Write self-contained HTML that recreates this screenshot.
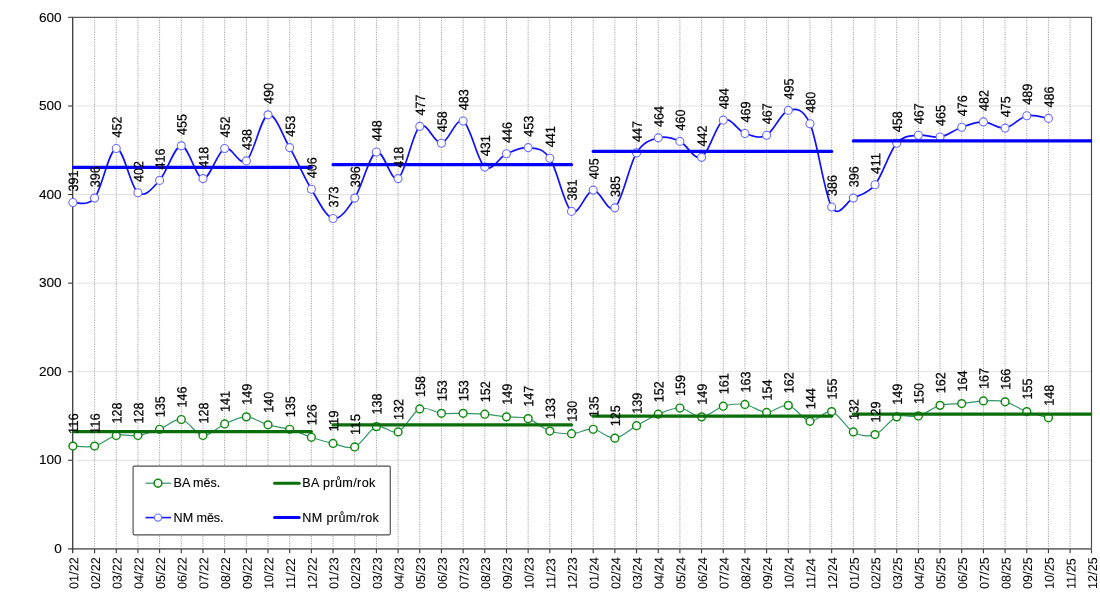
<!DOCTYPE html>
<html lang="cs"><head><meta charset="utf-8"><title>BA / NM</title>
<style>html,body{margin:0;padding:0;background:#fff}svg{display:block}text{font-family:"Liberation Sans",Arial,sans-serif;fill:#000;stroke:#000;stroke-width:.12px}.dl text{stroke-width:.22px}.xl text{stroke-width:.05px}.ax{font-size:13.6px}.xl{font-size:12.7px}.dl{font-size:13.5px}.lg{font-size:12.6px}</style></head><body>
<svg width="1100" height="600" viewBox="0 0 1100 600">
<defs><clipPath id="plot"><rect x="72.2" y="17" width="1019.9" height="532"/></clipPath></defs>
<rect width="1100" height="600" fill="#fff"/>
<g stroke="#e2e2e2" stroke-width="1">
<line x1="75.3" y1="460.27" x2="1091.8" y2="460.27"/>
<line x1="75.3" y1="371.7" x2="1091.8" y2="371.7"/>
<line x1="75.3" y1="283.12" x2="1091.8" y2="283.12"/>
<line x1="75.3" y1="194.55" x2="1091.8" y2="194.55"/>
<line x1="75.3" y1="105.98" x2="1091.8" y2="105.98"/>
</g>
<g stroke="#a4a4a4" stroke-width="1" stroke-dasharray="1.2 1.2">
<line x1="94.58" y1="17.4" x2="94.58" y2="548.85"/>
<line x1="116.26" y1="17.4" x2="116.26" y2="548.85"/>
<line x1="137.94" y1="17.4" x2="137.94" y2="548.85"/>
<line x1="159.61" y1="17.4" x2="159.61" y2="548.85"/>
<line x1="181.29" y1="17.4" x2="181.29" y2="548.85"/>
<line x1="202.97" y1="17.4" x2="202.97" y2="548.85"/>
<line x1="224.65" y1="17.4" x2="224.65" y2="548.85"/>
<line x1="246.33" y1="17.4" x2="246.33" y2="548.85"/>
<line x1="268.01" y1="17.4" x2="268.01" y2="548.85"/>
<line x1="289.69" y1="17.4" x2="289.69" y2="548.85"/>
<line x1="311.37" y1="17.4" x2="311.37" y2="548.85"/>
<line x1="333.04" y1="17.4" x2="333.04" y2="548.85"/>
<line x1="354.72" y1="17.4" x2="354.72" y2="548.85"/>
<line x1="376.4" y1="17.4" x2="376.4" y2="548.85"/>
<line x1="398.08" y1="17.4" x2="398.08" y2="548.85"/>
<line x1="419.76" y1="17.4" x2="419.76" y2="548.85"/>
<line x1="441.44" y1="17.4" x2="441.44" y2="548.85"/>
<line x1="463.12" y1="17.4" x2="463.12" y2="548.85"/>
<line x1="484.8" y1="17.4" x2="484.8" y2="548.85"/>
<line x1="506.47" y1="17.4" x2="506.47" y2="548.85"/>
<line x1="528.15" y1="17.4" x2="528.15" y2="548.85"/>
<line x1="549.83" y1="17.4" x2="549.83" y2="548.85"/>
<line x1="571.51" y1="17.4" x2="571.51" y2="548.85"/>
<line x1="593.19" y1="17.4" x2="593.19" y2="548.85"/>
<line x1="614.87" y1="17.4" x2="614.87" y2="548.85"/>
<line x1="636.55" y1="17.4" x2="636.55" y2="548.85"/>
<line x1="658.23" y1="17.4" x2="658.23" y2="548.85"/>
<line x1="679.9" y1="17.4" x2="679.9" y2="548.85"/>
<line x1="701.58" y1="17.4" x2="701.58" y2="548.85"/>
<line x1="723.26" y1="17.4" x2="723.26" y2="548.85"/>
<line x1="744.94" y1="17.4" x2="744.94" y2="548.85"/>
<line x1="766.62" y1="17.4" x2="766.62" y2="548.85"/>
<line x1="788.3" y1="17.4" x2="788.3" y2="548.85"/>
<line x1="809.98" y1="17.4" x2="809.98" y2="548.85"/>
<line x1="831.66" y1="17.4" x2="831.66" y2="548.85"/>
<line x1="853.33" y1="17.4" x2="853.33" y2="548.85"/>
<line x1="875.01" y1="17.4" x2="875.01" y2="548.85"/>
<line x1="896.69" y1="17.4" x2="896.69" y2="548.85"/>
<line x1="918.37" y1="17.4" x2="918.37" y2="548.85"/>
<line x1="940.05" y1="17.4" x2="940.05" y2="548.85"/>
<line x1="961.73" y1="17.4" x2="961.73" y2="548.85"/>
<line x1="983.41" y1="17.4" x2="983.41" y2="548.85"/>
<line x1="1005.09" y1="17.4" x2="1005.09" y2="548.85"/>
<line x1="1026.76" y1="17.4" x2="1026.76" y2="548.85"/>
<line x1="1048.44" y1="17.4" x2="1048.44" y2="548.85"/>
<line x1="1070.12" y1="17.4" x2="1070.12" y2="548.85"/>
</g>
<g fill="none">
<path d="M68.1 17.35H1092.1" stroke="#5c5c5c" stroke-width="1.25"/>
<path d="M1091.5 17.35V553.3" stroke="#484848" stroke-width="1.15"/>
<path d="M68.1 548.9H1091.5" stroke="#727272" stroke-width="1.6"/>
<path d="M72.7 17.35V553.3" stroke="#3a3a3a" stroke-width="1.3"/>
</g>
<g stroke="#3a3a3a" stroke-width="1.1" fill="none">
<line x1="68.1" y1="460.27" x2="72.7" y2="460.27"/>
<line x1="68.1" y1="371.7" x2="72.7" y2="371.7"/>
<line x1="68.1" y1="283.12" x2="72.7" y2="283.12"/>
<line x1="68.1" y1="194.55" x2="72.7" y2="194.55"/>
<line x1="68.1" y1="105.98" x2="72.7" y2="105.98"/>
<line x1="94.58" y1="548.9" x2="94.58" y2="553.3"/>
<line x1="116.26" y1="548.9" x2="116.26" y2="553.3"/>
<line x1="137.94" y1="548.9" x2="137.94" y2="553.3"/>
<line x1="159.61" y1="548.9" x2="159.61" y2="553.3"/>
<line x1="181.29" y1="548.9" x2="181.29" y2="553.3"/>
<line x1="202.97" y1="548.9" x2="202.97" y2="553.3"/>
<line x1="224.65" y1="548.9" x2="224.65" y2="553.3"/>
<line x1="246.33" y1="548.9" x2="246.33" y2="553.3"/>
<line x1="268.01" y1="548.9" x2="268.01" y2="553.3"/>
<line x1="289.69" y1="548.9" x2="289.69" y2="553.3"/>
<line x1="311.37" y1="548.9" x2="311.37" y2="553.3"/>
<line x1="333.04" y1="548.9" x2="333.04" y2="553.3"/>
<line x1="354.72" y1="548.9" x2="354.72" y2="553.3"/>
<line x1="376.4" y1="548.9" x2="376.4" y2="553.3"/>
<line x1="398.08" y1="548.9" x2="398.08" y2="553.3"/>
<line x1="419.76" y1="548.9" x2="419.76" y2="553.3"/>
<line x1="441.44" y1="548.9" x2="441.44" y2="553.3"/>
<line x1="463.12" y1="548.9" x2="463.12" y2="553.3"/>
<line x1="484.8" y1="548.9" x2="484.8" y2="553.3"/>
<line x1="506.47" y1="548.9" x2="506.47" y2="553.3"/>
<line x1="528.15" y1="548.9" x2="528.15" y2="553.3"/>
<line x1="549.83" y1="548.9" x2="549.83" y2="553.3"/>
<line x1="571.51" y1="548.9" x2="571.51" y2="553.3"/>
<line x1="593.19" y1="548.9" x2="593.19" y2="553.3"/>
<line x1="614.87" y1="548.9" x2="614.87" y2="553.3"/>
<line x1="636.55" y1="548.9" x2="636.55" y2="553.3"/>
<line x1="658.23" y1="548.9" x2="658.23" y2="553.3"/>
<line x1="679.9" y1="548.9" x2="679.9" y2="553.3"/>
<line x1="701.58" y1="548.9" x2="701.58" y2="553.3"/>
<line x1="723.26" y1="548.9" x2="723.26" y2="553.3"/>
<line x1="744.94" y1="548.9" x2="744.94" y2="553.3"/>
<line x1="766.62" y1="548.9" x2="766.62" y2="553.3"/>
<line x1="788.3" y1="548.9" x2="788.3" y2="553.3"/>
<line x1="809.98" y1="548.9" x2="809.98" y2="553.3"/>
<line x1="831.66" y1="548.9" x2="831.66" y2="553.3"/>
<line x1="853.33" y1="548.9" x2="853.33" y2="553.3"/>
<line x1="875.01" y1="548.9" x2="875.01" y2="553.3"/>
<line x1="896.69" y1="548.9" x2="896.69" y2="553.3"/>
<line x1="918.37" y1="548.9" x2="918.37" y2="553.3"/>
<line x1="940.05" y1="548.9" x2="940.05" y2="553.3"/>
<line x1="961.73" y1="548.9" x2="961.73" y2="553.3"/>
<line x1="983.41" y1="548.9" x2="983.41" y2="553.3"/>
<line x1="1005.09" y1="548.9" x2="1005.09" y2="553.3"/>
<line x1="1026.76" y1="548.9" x2="1026.76" y2="553.3"/>
<line x1="1048.44" y1="548.9" x2="1048.44" y2="553.3"/>
<line x1="1070.12" y1="548.9" x2="1070.12" y2="553.3"/>
</g>
<g class="ax" text-anchor="end">
<text x="61.7" y="553.05">0</text>
<text x="61.7" y="464.47">100</text>
<text x="61.7" y="375.9">200</text>
<text x="61.7" y="287.32">300</text>
<text x="61.7" y="198.75">400</text>
<text x="61.7" y="110.18">500</text>
<text x="61.7" y="21.6">600</text>
</g>
<g class="xl">
<text transform="translate(78.2 589) rotate(-89.95)">01/22</text>
<text transform="translate(99.88 589) rotate(-89.95)">02/22</text>
<text transform="translate(121.56 589) rotate(-89.95)">03/22</text>
<text transform="translate(143.24 589) rotate(-89.95)">04/22</text>
<text transform="translate(164.91 589) rotate(-89.95)">05/22</text>
<text transform="translate(186.59 589) rotate(-89.95)">06/22</text>
<text transform="translate(208.27 589) rotate(-89.95)">07/22</text>
<text transform="translate(229.95 589) rotate(-89.95)">08/22</text>
<text transform="translate(251.63 589) rotate(-89.95)">09/22</text>
<text transform="translate(273.31 589) rotate(-89.95)">10/22</text>
<text transform="translate(294.99 589) rotate(-89.95)">11/22</text>
<text transform="translate(316.67 589) rotate(-89.95)">12/22</text>
<text transform="translate(338.34 589) rotate(-89.95)">01/23</text>
<text transform="translate(360.02 589) rotate(-89.95)">02/23</text>
<text transform="translate(381.7 589) rotate(-89.95)">03/23</text>
<text transform="translate(403.38 589) rotate(-89.95)">04/23</text>
<text transform="translate(425.06 589) rotate(-89.95)">05/23</text>
<text transform="translate(446.74 589) rotate(-89.95)">06/23</text>
<text transform="translate(468.42 589) rotate(-89.95)">07/23</text>
<text transform="translate(490.1 589) rotate(-89.95)">08/23</text>
<text transform="translate(511.77 589) rotate(-89.95)">09/23</text>
<text transform="translate(533.45 589) rotate(-89.95)">10/23</text>
<text transform="translate(555.13 589) rotate(-89.95)">11/23</text>
<text transform="translate(576.81 589) rotate(-89.95)">12/23</text>
<text transform="translate(598.49 589) rotate(-89.95)">01/24</text>
<text transform="translate(620.17 589) rotate(-89.95)">02/24</text>
<text transform="translate(641.85 589) rotate(-89.95)">03/24</text>
<text transform="translate(663.53 589) rotate(-89.95)">04/24</text>
<text transform="translate(685.2 589) rotate(-89.95)">05/24</text>
<text transform="translate(706.88 589) rotate(-89.95)">06/24</text>
<text transform="translate(728.56 589) rotate(-89.95)">07/24</text>
<text transform="translate(750.24 589) rotate(-89.95)">08/24</text>
<text transform="translate(771.92 589) rotate(-89.95)">09/24</text>
<text transform="translate(793.6 589) rotate(-89.95)">10/24</text>
<text transform="translate(815.28 589) rotate(-89.95)">11/24</text>
<text transform="translate(836.96 589) rotate(-89.95)">12/24</text>
<text transform="translate(858.63 589) rotate(-89.95)">01/25</text>
<text transform="translate(880.31 589) rotate(-89.95)">02/25</text>
<text transform="translate(901.99 589) rotate(-89.95)">03/25</text>
<text transform="translate(923.67 589) rotate(-89.95)">04/25</text>
<text transform="translate(945.35 589) rotate(-89.95)">05/25</text>
<text transform="translate(967.03 589) rotate(-89.95)">06/25</text>
<text transform="translate(988.71 589) rotate(-89.95)">07/25</text>
<text transform="translate(1010.39 589) rotate(-89.95)">08/25</text>
<text transform="translate(1032.06 589) rotate(-89.95)">09/25</text>
<text transform="translate(1053.74 589) rotate(-89.95)">10/25</text>
<text transform="translate(1075.42 589) rotate(-89.95)">11/25</text>
<text transform="translate(1097.1 589) rotate(-89.95)">12/25</text>
</g>
<rect x="133.1" y="466.1" width="257.2" height="68.7" rx="1.2" fill="#fff" stroke="#4e4e4e" stroke-width="1.15"/>
<line x1="145.5" y1="483.2" x2="171" y2="483.2" stroke="#349468" stroke-width="1.2"/>
<circle cx="158" cy="483.2" r="3.9" fill="#fff" stroke="#128a12" stroke-width="1.6"/>
<line x1="145.5" y1="517.6" x2="171" y2="517.6" stroke="#1a1aff" stroke-width="1.6"/>
<circle cx="158" cy="517.6" r="3.6" fill="#fff" stroke="#6b6bff" stroke-width="1.1"/>
<line x1="274.6" y1="483.2" x2="299.2" y2="483.2" stroke="#0a6e0a" stroke-width="3" stroke-linecap="round"/>
<line x1="274.6" y1="517.6" x2="299.2" y2="517.6" stroke="#0000fa" stroke-width="3" stroke-linecap="round"/>
<g class="lg">
<text x="173.6" y="487.4" textLength="46.6">BA měs.</text>
<text x="173.6" y="521.8" textLength="50">NM měs.</text>
<text x="302.2" y="487.4" textLength="73.2">BA prům/rok</text>
<text x="302.2" y="521.8" textLength="76.7">NM prům/rok</text>
</g>
<path d="M72.9 446.1C76.51 446.1 87.35 447.87 94.58 446.1C101.8 444.33 109.03 437.25 116.26 435.47C123.48 433.7 130.71 436.51 137.94 435.47C145.16 434.44 152.39 431.93 159.61 429.27C166.84 426.62 174.07 418.5 181.29 419.53C188.52 420.56 195.75 434.74 202.97 435.47C210.2 436.21 217.42 427.06 224.65 423.96C231.88 420.86 239.1 416.73 246.33 416.87C253.56 417.02 260.78 422.78 268.01 424.85C275.23 426.91 282.46 427.21 289.69 429.27C296.91 431.34 304.14 434.88 311.37 437.25C318.59 439.61 325.82 441.82 333.04 443.45C340.27 445.07 347.5 449.79 354.72 446.99C361.95 444.18 369.18 429.13 376.4 426.62C383.63 424.11 390.85 434.88 398.08 431.93C405.31 428.98 412.53 412 419.76 408.9C426.99 405.8 434.21 412.59 441.44 413.33C448.66 414.07 455.89 413.18 463.12 413.33C470.34 413.48 477.57 413.63 484.8 414.22C492.02 414.81 499.25 416.14 506.47 416.87C513.7 417.61 520.93 416.28 528.15 418.64C535.38 421.01 542.61 428.54 549.83 431.05C557.06 433.55 564.28 434 571.51 433.7C578.74 433.41 585.96 428.54 593.19 429.27C600.42 430.01 607.64 438.72 614.87 438.13C622.09 437.54 629.32 429.72 636.55 425.73C643.77 421.74 651 417.17 658.23 414.22C665.45 411.26 672.68 407.57 679.9 408.02C687.13 408.46 694.36 417.17 701.58 416.87C708.81 416.58 716.04 408.31 723.26 406.24C730.49 404.18 737.71 403.44 744.94 404.47C752.17 405.51 759.39 412.3 766.62 412.44C773.85 412.59 781.07 403.88 788.3 405.36C795.52 406.83 802.75 420.27 809.98 421.3C817.2 422.34 824.43 409.79 831.66 411.56C838.88 413.33 846.11 428.09 853.33 431.93C860.56 435.77 867.79 437.1 875.01 434.59C882.24 432.08 889.47 419.97 896.69 416.87C903.92 413.77 911.14 417.91 918.37 415.99C925.6 414.07 932.82 407.43 940.05 405.36C947.28 403.29 954.5 404.33 961.73 403.59C968.95 402.85 976.18 401.23 983.41 400.93C990.63 400.63 997.86 400.04 1005.09 401.82C1012.31 403.59 1019.54 408.9 1026.76 411.56C1033.99 414.22 1044.83 416.73 1048.44 417.76" fill="none" stroke="#349468" stroke-width="1.2"/>
<path d="M72.9 202.52C76.51 201.78 87.35 207.1 94.58 198.09C101.8 189.09 109.03 149.38 116.26 148.49C123.48 147.61 130.71 187.46 137.94 192.78C145.16 198.09 152.39 188.2 159.61 180.38C166.84 172.55 174.07 146.13 181.29 145.83C188.52 145.54 195.75 178.16 202.97 178.61C210.2 179.05 217.42 151.44 224.65 148.49C231.88 145.54 239.1 166.5 246.33 160.89C253.56 155.28 260.78 117.05 268.01 114.83C275.23 112.62 282.46 135.2 289.69 147.61C296.91 160.01 304.14 177.43 311.37 189.24C318.59 201.05 325.82 216.99 333.04 218.47C340.27 219.94 347.5 209.16 354.72 198.09C361.95 187.02 369.18 155.28 376.4 152.03C383.63 148.79 390.85 182.89 398.08 178.61C405.31 174.33 412.53 132.25 419.76 126.35C426.99 120.44 434.21 144.06 441.44 143.18C448.66 142.29 455.89 117.05 463.12 121.03C470.34 125.02 477.57 161.63 484.8 167.09C492.02 172.55 499.25 157.05 506.47 153.81C513.7 150.56 520.93 146.87 528.15 147.61C535.38 148.34 542.61 147.61 549.83 158.23C557.06 168.86 564.28 206.06 571.51 211.38C578.74 216.69 585.96 190.71 593.19 190.12C600.42 189.53 607.64 214.04 614.87 207.84C622.09 201.64 629.32 164.58 636.55 152.92C643.77 141.26 651 139.78 658.23 137.86C665.45 135.94 672.68 138.16 679.9 141.4C687.13 144.65 694.36 160.89 701.58 157.35C708.81 153.81 716.04 124.13 723.26 120.15C730.49 116.16 737.71 130.92 744.94 133.43C752.17 135.94 759.39 139.04 766.62 135.2C773.85 131.37 781.07 112.32 788.3 110.4C795.52 108.48 802.75 107.6 809.98 123.69C817.2 139.78 824.43 194.55 831.66 206.95C838.88 219.35 846.11 201.78 853.33 198.09C860.56 194.4 867.79 193.96 875.01 184.81C882.24 175.65 889.47 151.44 896.69 143.18C903.92 134.91 911.14 136.24 918.37 135.2C925.6 134.17 932.82 138.3 940.05 136.98C947.28 135.65 954.5 129.74 961.73 127.23C968.95 124.72 976.18 121.77 983.41 121.92C990.63 122.07 997.86 129.15 1005.09 128.12C1012.31 127.09 1019.54 117.34 1026.76 115.72C1033.99 114.09 1044.83 117.93 1048.44 118.38" fill="none" stroke="#1010ff" stroke-width="1.7"/>
<g fill="#fff" stroke="#128a12" stroke-width="1.45">
<circle cx="72.9" cy="446.1" r="3.9"/>
<circle cx="94.58" cy="446.1" r="3.9"/>
<circle cx="116.26" cy="435.47" r="3.9"/>
<circle cx="137.94" cy="435.47" r="3.9"/>
<circle cx="159.61" cy="429.27" r="3.9"/>
<circle cx="181.29" cy="419.53" r="3.9"/>
<circle cx="202.97" cy="435.47" r="3.9"/>
<circle cx="224.65" cy="423.96" r="3.9"/>
<circle cx="246.33" cy="416.87" r="3.9"/>
<circle cx="268.01" cy="424.85" r="3.9"/>
<circle cx="289.69" cy="429.27" r="3.9"/>
<circle cx="311.37" cy="437.25" r="3.9"/>
<circle cx="333.04" cy="443.45" r="3.9"/>
<circle cx="354.72" cy="446.99" r="3.9"/>
<circle cx="376.4" cy="426.62" r="3.9"/>
<circle cx="398.08" cy="431.93" r="3.9"/>
<circle cx="419.76" cy="408.9" r="3.9"/>
<circle cx="441.44" cy="413.33" r="3.9"/>
<circle cx="463.12" cy="413.33" r="3.9"/>
<circle cx="484.8" cy="414.22" r="3.9"/>
<circle cx="506.47" cy="416.87" r="3.9"/>
<circle cx="528.15" cy="418.64" r="3.9"/>
<circle cx="549.83" cy="431.05" r="3.9"/>
<circle cx="571.51" cy="433.7" r="3.9"/>
<circle cx="593.19" cy="429.27" r="3.9"/>
<circle cx="614.87" cy="438.13" r="3.9"/>
<circle cx="636.55" cy="425.73" r="3.9"/>
<circle cx="658.23" cy="414.22" r="3.9"/>
<circle cx="679.9" cy="408.02" r="3.9"/>
<circle cx="701.58" cy="416.87" r="3.9"/>
<circle cx="723.26" cy="406.24" r="3.9"/>
<circle cx="744.94" cy="404.47" r="3.9"/>
<circle cx="766.62" cy="412.44" r="3.9"/>
<circle cx="788.3" cy="405.36" r="3.9"/>
<circle cx="809.98" cy="421.3" r="3.9"/>
<circle cx="831.66" cy="411.56" r="3.9"/>
<circle cx="853.33" cy="431.93" r="3.9"/>
<circle cx="875.01" cy="434.59" r="3.9"/>
<circle cx="896.69" cy="416.87" r="3.9"/>
<circle cx="918.37" cy="415.99" r="3.9"/>
<circle cx="940.05" cy="405.36" r="3.9"/>
<circle cx="961.73" cy="403.59" r="3.9"/>
<circle cx="983.41" cy="400.93" r="3.9"/>
<circle cx="1005.09" cy="401.82" r="3.9"/>
<circle cx="1026.76" cy="411.56" r="3.9"/>
<circle cx="1048.44" cy="417.76" r="3.9"/>
</g>
<g fill="#fff" stroke="#6b6bff" stroke-width="1.1">
<circle cx="72.9" cy="202.52" r="4"/>
<circle cx="94.58" cy="198.09" r="4"/>
<circle cx="116.26" cy="148.49" r="4"/>
<circle cx="137.94" cy="192.78" r="4"/>
<circle cx="159.61" cy="180.38" r="4"/>
<circle cx="181.29" cy="145.83" r="4"/>
<circle cx="202.97" cy="178.61" r="4"/>
<circle cx="224.65" cy="148.49" r="4"/>
<circle cx="246.33" cy="160.89" r="4"/>
<circle cx="268.01" cy="114.83" r="4"/>
<circle cx="289.69" cy="147.61" r="4"/>
<circle cx="311.37" cy="189.24" r="4"/>
<circle cx="333.04" cy="218.47" r="4"/>
<circle cx="354.72" cy="198.09" r="4"/>
<circle cx="376.4" cy="152.03" r="4"/>
<circle cx="398.08" cy="178.61" r="4"/>
<circle cx="419.76" cy="126.35" r="4"/>
<circle cx="441.44" cy="143.18" r="4"/>
<circle cx="463.12" cy="121.03" r="4"/>
<circle cx="484.8" cy="167.09" r="4"/>
<circle cx="506.47" cy="153.81" r="4"/>
<circle cx="528.15" cy="147.61" r="4"/>
<circle cx="549.83" cy="158.23" r="4"/>
<circle cx="571.51" cy="211.38" r="4"/>
<circle cx="593.19" cy="190.12" r="4"/>
<circle cx="614.87" cy="207.84" r="4"/>
<circle cx="636.55" cy="152.92" r="4"/>
<circle cx="658.23" cy="137.86" r="4"/>
<circle cx="679.9" cy="141.4" r="4"/>
<circle cx="701.58" cy="157.35" r="4"/>
<circle cx="723.26" cy="120.15" r="4"/>
<circle cx="744.94" cy="133.43" r="4"/>
<circle cx="766.62" cy="135.2" r="4"/>
<circle cx="788.3" cy="110.4" r="4"/>
<circle cx="809.98" cy="123.69" r="4"/>
<circle cx="831.66" cy="206.95" r="4"/>
<circle cx="853.33" cy="198.09" r="4"/>
<circle cx="875.01" cy="184.81" r="4"/>
<circle cx="896.69" cy="143.18" r="4"/>
<circle cx="918.37" cy="135.2" r="4"/>
<circle cx="940.05" cy="136.98" r="4"/>
<circle cx="961.73" cy="127.23" r="4"/>
<circle cx="983.41" cy="121.92" r="4"/>
<circle cx="1005.09" cy="128.12" r="4"/>
<circle cx="1026.76" cy="115.72" r="4"/>
<circle cx="1048.44" cy="118.38" r="4"/>
</g>
<g stroke="#0a6e0a" stroke-width="3.2" stroke-linecap="round" clip-path="url(#plot)">
<line x1="72.9" y1="431.64" x2="311.37" y2="431.64"/>
<line x1="333.04" y1="424.92" x2="571.51" y2="424.92"/>
<line x1="593.19" y1="416.14" x2="831.66" y2="416.14"/>
<line x1="853.33" y1="414.04" x2="1091.8" y2="414.04"/>
</g>
<g stroke="#0000fa" stroke-width="3.2" stroke-linecap="round" clip-path="url(#plot)">
<line x1="72.9" y1="167.31" x2="311.37" y2="167.31"/>
<line x1="333.04" y1="164.66" x2="571.51" y2="164.66"/>
<line x1="593.19" y1="151.44" x2="831.66" y2="151.44"/>
<line x1="853.33" y1="140.96" x2="1091.8" y2="140.96"/>
</g>
<g class="dl">
<text transform="translate(78.1 434.1) rotate(-89.95)" textLength="21" lengthAdjust="spacingAndGlyphs">116</text>
<text transform="translate(99.78 434.1) rotate(-89.95)" textLength="21" lengthAdjust="spacingAndGlyphs">116</text>
<text transform="translate(121.46 423.47) rotate(-89.95)" textLength="21" lengthAdjust="spacingAndGlyphs">128</text>
<text transform="translate(143.14 423.47) rotate(-89.95)" textLength="21" lengthAdjust="spacingAndGlyphs">128</text>
<text transform="translate(164.81 417.27) rotate(-89.95)" textLength="21" lengthAdjust="spacingAndGlyphs">135</text>
<text transform="translate(186.49 407.53) rotate(-89.95)" textLength="21" lengthAdjust="spacingAndGlyphs">146</text>
<text transform="translate(208.17 423.47) rotate(-89.95)" textLength="21" lengthAdjust="spacingAndGlyphs">128</text>
<text transform="translate(229.85 411.96) rotate(-89.95)" textLength="21" lengthAdjust="spacingAndGlyphs">141</text>
<text transform="translate(251.53 404.87) rotate(-89.95)" textLength="21" lengthAdjust="spacingAndGlyphs">149</text>
<text transform="translate(273.21 412.85) rotate(-89.95)" textLength="21" lengthAdjust="spacingAndGlyphs">140</text>
<text transform="translate(294.89 417.27) rotate(-89.95)" textLength="21" lengthAdjust="spacingAndGlyphs">135</text>
<text transform="translate(316.57 425.25) rotate(-89.95)" textLength="21" lengthAdjust="spacingAndGlyphs">126</text>
<text transform="translate(338.24 431.45) rotate(-89.95)" textLength="21" lengthAdjust="spacingAndGlyphs">119</text>
<text transform="translate(359.92 434.99) rotate(-89.95)" textLength="21" lengthAdjust="spacingAndGlyphs">115</text>
<text transform="translate(381.6 414.62) rotate(-89.95)" textLength="21" lengthAdjust="spacingAndGlyphs">138</text>
<text transform="translate(403.28 419.93) rotate(-89.95)" textLength="21" lengthAdjust="spacingAndGlyphs">132</text>
<text transform="translate(424.96 396.9) rotate(-89.95)" textLength="21" lengthAdjust="spacingAndGlyphs">158</text>
<text transform="translate(446.64 401.33) rotate(-89.95)" textLength="21" lengthAdjust="spacingAndGlyphs">153</text>
<text transform="translate(468.32 401.33) rotate(-89.95)" textLength="21" lengthAdjust="spacingAndGlyphs">153</text>
<text transform="translate(490 402.22) rotate(-89.95)" textLength="21" lengthAdjust="spacingAndGlyphs">152</text>
<text transform="translate(511.67 404.87) rotate(-89.95)" textLength="21" lengthAdjust="spacingAndGlyphs">149</text>
<text transform="translate(533.35 406.64) rotate(-89.95)" textLength="21" lengthAdjust="spacingAndGlyphs">147</text>
<text transform="translate(555.03 419.05) rotate(-89.95)" textLength="21" lengthAdjust="spacingAndGlyphs">133</text>
<text transform="translate(576.71 421.7) rotate(-89.95)" textLength="21" lengthAdjust="spacingAndGlyphs">130</text>
<text transform="translate(598.39 417.27) rotate(-89.95)" textLength="21" lengthAdjust="spacingAndGlyphs">135</text>
<text transform="translate(620.07 426.13) rotate(-89.95)" textLength="21" lengthAdjust="spacingAndGlyphs">125</text>
<text transform="translate(641.75 413.73) rotate(-89.95)" textLength="21" lengthAdjust="spacingAndGlyphs">139</text>
<text transform="translate(663.43 402.22) rotate(-89.95)" textLength="21" lengthAdjust="spacingAndGlyphs">152</text>
<text transform="translate(685.1 396.02) rotate(-89.95)" textLength="21" lengthAdjust="spacingAndGlyphs">159</text>
<text transform="translate(706.78 404.87) rotate(-89.95)" textLength="21" lengthAdjust="spacingAndGlyphs">149</text>
<text transform="translate(728.46 394.24) rotate(-89.95)" textLength="21" lengthAdjust="spacingAndGlyphs">161</text>
<text transform="translate(750.14 392.47) rotate(-89.95)" textLength="21" lengthAdjust="spacingAndGlyphs">163</text>
<text transform="translate(771.82 400.44) rotate(-89.95)" textLength="21" lengthAdjust="spacingAndGlyphs">154</text>
<text transform="translate(793.5 393.36) rotate(-89.95)" textLength="21" lengthAdjust="spacingAndGlyphs">162</text>
<text transform="translate(815.18 409.3) rotate(-89.95)" textLength="21" lengthAdjust="spacingAndGlyphs">144</text>
<text transform="translate(836.86 399.56) rotate(-89.95)" textLength="21" lengthAdjust="spacingAndGlyphs">155</text>
<text transform="translate(858.53 419.93) rotate(-89.95)" textLength="21" lengthAdjust="spacingAndGlyphs">132</text>
<text transform="translate(880.21 422.59) rotate(-89.95)" textLength="21" lengthAdjust="spacingAndGlyphs">129</text>
<text transform="translate(901.89 404.87) rotate(-89.95)" textLength="21" lengthAdjust="spacingAndGlyphs">149</text>
<text transform="translate(923.57 403.99) rotate(-89.95)" textLength="21" lengthAdjust="spacingAndGlyphs">150</text>
<text transform="translate(945.25 393.36) rotate(-89.95)" textLength="21" lengthAdjust="spacingAndGlyphs">162</text>
<text transform="translate(966.93 391.59) rotate(-89.95)" textLength="21" lengthAdjust="spacingAndGlyphs">164</text>
<text transform="translate(988.61 388.93) rotate(-89.95)" textLength="21" lengthAdjust="spacingAndGlyphs">167</text>
<text transform="translate(1010.29 389.82) rotate(-89.95)" textLength="21" lengthAdjust="spacingAndGlyphs">166</text>
<text transform="translate(1031.96 399.56) rotate(-89.95)" textLength="21" lengthAdjust="spacingAndGlyphs">155</text>
<text transform="translate(1053.64 405.76) rotate(-89.95)" textLength="21" lengthAdjust="spacingAndGlyphs">148</text>
<text transform="translate(78.1 191.62) rotate(-89.95)" textLength="21" lengthAdjust="spacingAndGlyphs">391</text>
<text transform="translate(99.78 187.19) rotate(-89.95)" textLength="21" lengthAdjust="spacingAndGlyphs">396</text>
<text transform="translate(121.46 137.59) rotate(-89.95)" textLength="21" lengthAdjust="spacingAndGlyphs">452</text>
<text transform="translate(143.14 181.88) rotate(-89.95)" textLength="21" lengthAdjust="spacingAndGlyphs">402</text>
<text transform="translate(164.81 169.48) rotate(-89.95)" textLength="21" lengthAdjust="spacingAndGlyphs">416</text>
<text transform="translate(186.49 134.93) rotate(-89.95)" textLength="21" lengthAdjust="spacingAndGlyphs">455</text>
<text transform="translate(208.17 167.71) rotate(-89.95)" textLength="21" lengthAdjust="spacingAndGlyphs">418</text>
<text transform="translate(229.85 137.59) rotate(-89.95)" textLength="21" lengthAdjust="spacingAndGlyphs">452</text>
<text transform="translate(251.53 149.99) rotate(-89.95)" textLength="21" lengthAdjust="spacingAndGlyphs">438</text>
<text transform="translate(273.21 103.93) rotate(-89.95)" textLength="21" lengthAdjust="spacingAndGlyphs">490</text>
<text transform="translate(294.89 136.71) rotate(-89.95)" textLength="21" lengthAdjust="spacingAndGlyphs">453</text>
<text transform="translate(316.57 178.34) rotate(-89.95)" textLength="21" lengthAdjust="spacingAndGlyphs">406</text>
<text transform="translate(338.24 207.57) rotate(-89.95)" textLength="21" lengthAdjust="spacingAndGlyphs">373</text>
<text transform="translate(359.92 187.19) rotate(-89.95)" textLength="21" lengthAdjust="spacingAndGlyphs">396</text>
<text transform="translate(381.6 141.13) rotate(-89.95)" textLength="21" lengthAdjust="spacingAndGlyphs">448</text>
<text transform="translate(403.28 167.71) rotate(-89.95)" textLength="21" lengthAdjust="spacingAndGlyphs">418</text>
<text transform="translate(424.96 115.45) rotate(-89.95)" textLength="21" lengthAdjust="spacingAndGlyphs">477</text>
<text transform="translate(446.64 132.28) rotate(-89.95)" textLength="21" lengthAdjust="spacingAndGlyphs">458</text>
<text transform="translate(468.32 110.13) rotate(-89.95)" textLength="21" lengthAdjust="spacingAndGlyphs">483</text>
<text transform="translate(490 156.19) rotate(-89.95)" textLength="21" lengthAdjust="spacingAndGlyphs">431</text>
<text transform="translate(511.67 142.91) rotate(-89.95)" textLength="21" lengthAdjust="spacingAndGlyphs">446</text>
<text transform="translate(533.35 136.71) rotate(-89.95)" textLength="21" lengthAdjust="spacingAndGlyphs">453</text>
<text transform="translate(555.03 147.33) rotate(-89.95)" textLength="21" lengthAdjust="spacingAndGlyphs">441</text>
<text transform="translate(576.71 200.48) rotate(-89.95)" textLength="21" lengthAdjust="spacingAndGlyphs">381</text>
<text transform="translate(598.39 179.22) rotate(-89.95)" textLength="21" lengthAdjust="spacingAndGlyphs">405</text>
<text transform="translate(620.07 196.94) rotate(-89.95)" textLength="21" lengthAdjust="spacingAndGlyphs">385</text>
<text transform="translate(641.75 142.02) rotate(-89.95)" textLength="21" lengthAdjust="spacingAndGlyphs">447</text>
<text transform="translate(663.43 126.96) rotate(-89.95)" textLength="21" lengthAdjust="spacingAndGlyphs">464</text>
<text transform="translate(685.1 130.5) rotate(-89.95)" textLength="21" lengthAdjust="spacingAndGlyphs">460</text>
<text transform="translate(706.78 146.45) rotate(-89.95)" textLength="21" lengthAdjust="spacingAndGlyphs">442</text>
<text transform="translate(728.46 109.25) rotate(-89.95)" textLength="21" lengthAdjust="spacingAndGlyphs">484</text>
<text transform="translate(750.14 122.53) rotate(-89.95)" textLength="21" lengthAdjust="spacingAndGlyphs">469</text>
<text transform="translate(771.82 124.3) rotate(-89.95)" textLength="21" lengthAdjust="spacingAndGlyphs">467</text>
<text transform="translate(793.5 99.5) rotate(-89.95)" textLength="21" lengthAdjust="spacingAndGlyphs">495</text>
<text transform="translate(815.18 112.79) rotate(-89.95)" textLength="21" lengthAdjust="spacingAndGlyphs">480</text>
<text transform="translate(836.86 196.05) rotate(-89.95)" textLength="21" lengthAdjust="spacingAndGlyphs">386</text>
<text transform="translate(858.53 187.19) rotate(-89.95)" textLength="21" lengthAdjust="spacingAndGlyphs">396</text>
<text transform="translate(880.21 173.91) rotate(-89.95)" textLength="21" lengthAdjust="spacingAndGlyphs">411</text>
<text transform="translate(901.89 132.28) rotate(-89.95)" textLength="21" lengthAdjust="spacingAndGlyphs">458</text>
<text transform="translate(923.57 124.3) rotate(-89.95)" textLength="21" lengthAdjust="spacingAndGlyphs">467</text>
<text transform="translate(945.25 126.08) rotate(-89.95)" textLength="21" lengthAdjust="spacingAndGlyphs">465</text>
<text transform="translate(966.93 116.33) rotate(-89.95)" textLength="21" lengthAdjust="spacingAndGlyphs">476</text>
<text transform="translate(988.61 111.02) rotate(-89.95)" textLength="21" lengthAdjust="spacingAndGlyphs">482</text>
<text transform="translate(1010.29 117.22) rotate(-89.95)" textLength="21" lengthAdjust="spacingAndGlyphs">475</text>
<text transform="translate(1031.96 104.82) rotate(-89.95)" textLength="21" lengthAdjust="spacingAndGlyphs">489</text>
<text transform="translate(1053.64 107.48) rotate(-89.95)" textLength="21" lengthAdjust="spacingAndGlyphs">486</text>
</g>
</svg></body></html>
